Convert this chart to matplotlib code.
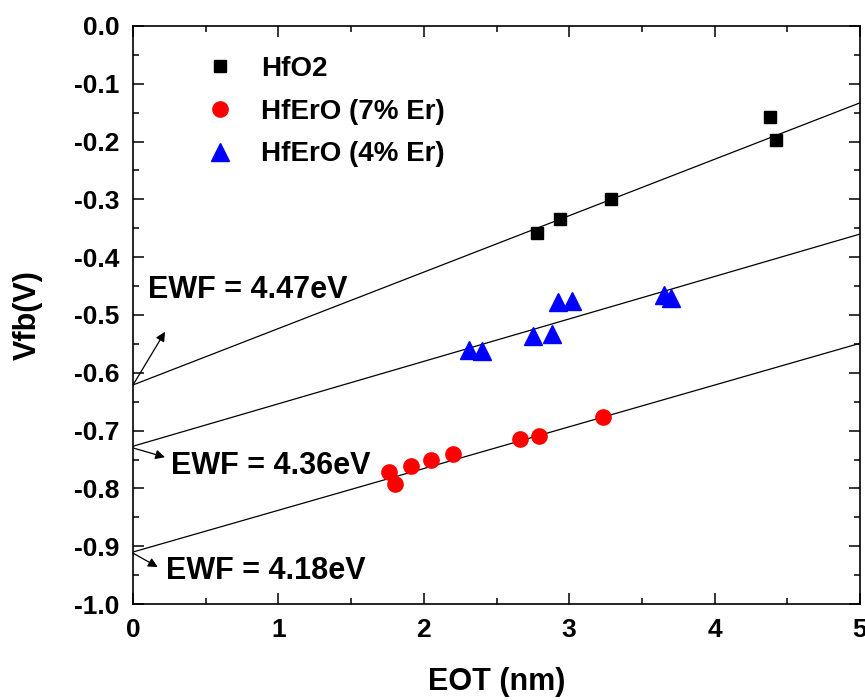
import numpy as np
import matplotlib
matplotlib.use('Agg')
import matplotlib.pyplot as plt
from matplotlib.ticker import MultipleLocator

plt.rcParams['font.family'] = ['Liberation Sans', 'DejaVu Sans']
plt.rcParams['font.weight'] = 'bold'

# Measured data (EOT in nm, Vfb in V)
hfo2_eot = [2.78, 2.94, 3.29, 4.38, 4.42]
hfo2_vfb = [-0.358, -0.334, -0.299, -0.158, -0.198]

er7_eot = [1.76, 1.80, 1.91, 2.05, 2.20, 2.66, 2.79, 3.235]
er7_vfb = [-0.771, -0.792, -0.762, -0.751, -0.741, -0.715, -0.709, -0.677]

er4_eot = [2.31, 2.40, 2.75, 2.88, 2.925, 3.02, 3.65, 3.70]
er4_vfb = [-0.561, -0.562, -0.537, -0.533, -0.477, -0.475, -0.465, -0.471]

# Linear fits as drawn (intercept at EOT=0, value at EOT=5)
fit_x = [0, 5]
fit_hfo2 = [-0.621, -0.133]
fit_er4 = [-0.727, -0.360]
fit_er7 = [-0.910, -0.549]

# EWF annotations: label, text position, arrow tip, arrow start
ewf_labels = ['EWF = 4.47eV', 'EWF = 4.36eV', 'EWF = 4.18eV']
ewf_text_xy = [(0.10, -0.457), (0.26, -0.762), (0.23, -0.942)]
ewf_tip_xy = [(0.22, -0.529), (0.22, -0.746), (0.17, -0.936)]
ewf_start_xy = [(0.0, -0.621), (0.0, -0.730), (0.0, -0.912)]

fig = plt.figure(figsize=(8.65, 7.0), dpi=100)
ax = fig.add_axes([0.1538, 0.1371, 0.8404, 0.8258])

for fy in [fit_hfo2, fit_er4, fit_er7]:
    ax.plot(fit_x, fy, color='black', lw=0.9, zorder=1)

ax.plot(hfo2_eot, hfo2_vfb, 's', color='black', ms=9, ls='none', label='HfO2', zorder=3)
ax.plot(er7_eot, er7_vfb, 'o', color='red', ms=11, ls='none', label='HfErO (7% Er)', zorder=3)
ax.plot(er4_eot, er4_vfb, '^', color='blue', ms=13, ls='none', label='HfErO (4% Er)', zorder=3)

for lab, txy, tip, st in zip(ewf_labels, ewf_text_xy, ewf_tip_xy, ewf_start_xy):
    ax.text(txy[0], txy[1], lab, fontsize=22, fontweight='bold', va='center', ha='left')
    ax.annotate('', xy=tip, xytext=st,
                arrowprops=dict(arrowstyle='-|>', color='black', lw=0.9,
                                mutation_scale=14, shrinkA=0, shrinkB=0),
                annotation_clip=False)

ax.set_xlim(0, 5)
ax.set_ylim(-1.0, 0.0)
ax.xaxis.set_major_locator(MultipleLocator(1))
ax.xaxis.set_minor_locator(MultipleLocator(0.5))
ax.yaxis.set_major_locator(MultipleLocator(0.1))
ax.yaxis.set_minor_locator(MultipleLocator(0.05))
ax.yaxis.set_major_formatter(matplotlib.ticker.FormatStrFormatter('%.1f'))
ax.xaxis.set_major_formatter(matplotlib.ticker.FormatStrFormatter('%d'))

ax.tick_params(which='both', direction='in', top=True, right=True, width=1.1)
ax.tick_params(which='major', length=8, labelsize=19, pad=10)
ax.tick_params(which='minor', length=4)
for s in ax.spines.values():
    s.set_linewidth(1.2)

ax.set_xlabel('EOT (nm)', fontsize=22, fontweight='bold', labelpad=18)
ax.set_ylabel('Vfb(V)', fontsize=22, fontweight='bold', labelpad=22)

ax.legend(loc='upper left', bbox_to_anchor=(0.081, 0.968), frameon=False,
          fontsize=20, handletextpad=0.9, labelspacing=0.61, handlelength=1.2,
          borderaxespad=0)

fig.savefig('out.png', dpi=100)
plt.close()
